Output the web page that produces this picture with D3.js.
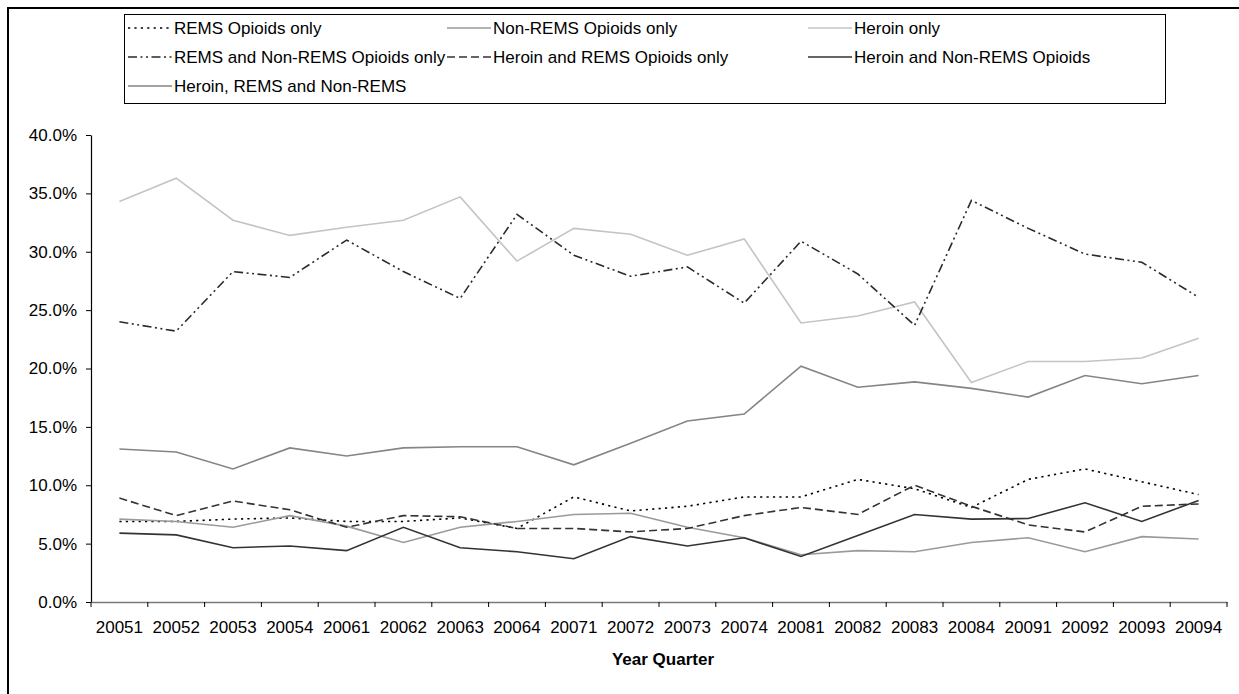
<!DOCTYPE html>
<html>
<head>
<meta charset="utf-8">
<script src="https://cdn.jsdelivr.net/npm/d3@7"></script>
<style>
  body { margin: 0; background: #fff; }
  svg { display: block; font-family: "Liberation Sans", Arial, sans-serif; }
</style>
</head>
<body>
<svg id="chart" width="1239" height="694"></svg>
<script>
// Year-quarter categories
const quarters = ["20051","20052","20053","20054","20061","20062","20063","20064",
                  "20071","20072","20073","20074","20081","20082","20083","20084",
                  "20091","20092","20093","20094"];

// Share of cases (%) per quarter, one array per exposure group
const remsOnly          = [6.9, 6.9, 7.1, 7.2, 6.9, 6.9, 7.2, 6.3, 9.0, 7.8, 8.2, 9.0, 9.0, 10.5, 9.7, 8.1, 10.5, 11.4, 10.3, 9.2];
const nonRemsOnly       = [7.1, 6.9, 6.4, 7.4, 6.5, 5.1, 6.4, 6.9, 7.5, 7.6, 6.4, 5.5, 4.05, 4.4, 4.3, 5.1, 5.5, 4.3, 5.6, 5.4];
const heroinOnly        = [34.3, 36.3, 32.7, 31.4, 32.1, 32.7, 34.7, 29.2, 32.0, 31.5, 29.7, 31.1, 23.9, 24.5, 25.7, 18.8, 20.6, 20.6, 20.9, 22.6];
const remsAndNonRems    = [24.0, 23.2, 28.3, 27.8, 31.0, 28.3, 26.0, 33.2, 29.7, 27.9, 28.7, 25.6, 30.9, 28.1, 23.7, 34.4, 32.0, 29.8, 29.1, 26.1];
const heroinAndRems     = [8.9, 7.4, 8.65, 7.9, 6.4, 7.4, 7.3, 6.3, 6.3, 6.0, 6.3, 7.4, 8.1, 7.5, 10.0, 8.2, 6.6, 6.0, 8.2, 8.4];
const heroinAndNonRems  = [5.9, 5.75, 4.65, 4.8, 4.4, 6.4, 4.65, 4.3, 3.7, 5.6, 4.8, 5.5, 3.9, 5.7, 7.5, 7.1, 7.15, 8.5, 6.9, 8.7];
const heroinRemsNonRems = [13.1, 12.85, 11.4, 13.2, 12.5, 13.2, 13.3, 13.3, 11.75, 13.6, 15.5, 16.1, 20.2, 18.4, 18.85, 18.3, 17.55, 19.4, 18.7, 19.4];

// Legend labels (row-major order as shown in the legend box)
const seriesLabels = ["REMS Opioids only", "Non-REMS Opioids only", "Heroin only",
                      "REMS and Non-REMS Opioids only", "Heroin and REMS Opioids only", "Heroin and Non-REMS Opioids",
                      "Heroin, REMS and Non-REMS"];

// Y-axis tick values (fractions)
const yTicks = [0, 0.05, 0.10, 0.15, 0.20, 0.25, 0.30, 0.35, 0.40];

const xTitle = "Year Quarter";

// ---- styling (kept separate from the data) ----
const seriesValues = [remsOnly, nonRemsOnly, heroinOnly, remsAndNonRems, heroinAndRems, heroinAndNonRems, heroinRemsNonRems];
const styles = [
  { color: "#000000", dash: "2.2,4.2" },
  { color: "#9a9a9a", dash: null },
  { color: "#c4c4c4", dash: null },
  { color: "#2a2a2a", dash: "9,3.5,2,3.5,2,3.5" },
  { color: "#333333", dash: "8,4" },
  { color: "#333333", dash: null },
  { color: "#858585", dash: null }
];

const series = seriesLabels.map((label, i) => ({ label, values: seriesValues[i], style: styles[i] }));

const svg = d3.select("#chart");
const W = 1239, H = 694;
const plot = { left: 91, right: 1227, top: 135, bottom: 602 };

// chart-area frame
svg.append("rect")
  .attr("x", 8).attr("y", 8)
  .attr("width", W + 20).attr("height", H + 20)
  .attr("fill", "none").attr("stroke", "#000").attr("stroke-width", 2);

const x = d3.scaleBand().domain(quarters).range([plot.left, plot.right]).paddingInner(0).paddingOuter(0);
const y = d3.scaleLinear().domain([0, 0.40]).range([plot.bottom, plot.top]);
const cx = q => x(q) + x.bandwidth() / 2;

// Y axis
const yAxis = svg.append("g")
  .attr("transform", `translate(${plot.left},0)`)
  .call(d3.axisLeft(y).tickValues(yTicks).tickFormat(d3.format(".1%")).tickSizeInner(5).tickSizeOuter(0).tickPadding(9));
yAxis.select(".domain").attr("stroke", "#000").attr("stroke-width", 1.2);
yAxis.selectAll(".tick line").attr("stroke", "#000");
yAxis.selectAll("text").attr("font-size", 17).attr("fill", "#000").attr("font-family", "Liberation Sans, Arial, sans-serif");

// X axis: labels centred in each band, tick marks at band boundaries
const xAxis = svg.append("g")
  .attr("transform", `translate(0,${plot.bottom})`)
  .call(d3.axisBottom(x).tickSize(0).tickPadding(19));
xAxis.select(".domain").attr("stroke", "#7a7a7a").attr("stroke-width", 1.5);
xAxis.selectAll("text").attr("font-size", 17).attr("fill", "#000").attr("font-family", "Liberation Sans, Arial, sans-serif");

const boundaries = quarters.map(q => x(q)).concat([x(quarters[quarters.length - 1]) + x.bandwidth()]);
svg.append("g").selectAll("line").data(boundaries).join("line")
  .attr("x1", d => d).attr("x2", d => d)
  .attr("y1", plot.bottom).attr("y2", plot.bottom + 5)
  .attr("stroke", "#000").attr("stroke-width", 1);

// X axis title
svg.append("text")
  .attr("x", (plot.left + plot.right) / 2 + 4)
  .attr("y", 665)
  .attr("text-anchor", "middle")
  .attr("font-size", 17).attr("font-weight", "bold")
  .text(xTitle);

// Series lines
const line = d3.line()
  .x((d, i) => cx(quarters[i]))
  .y(d => y(d / 100));

svg.append("g").selectAll("path").data(series).join("path")
  .attr("d", s => line(s.values))
  .attr("fill", "none")
  .attr("stroke", s => s.style.color)
  .attr("stroke-width", 1.6)
  .attr("stroke-dasharray", s => s.style.dash);

// Legend
const legend = { left: 124, top: 14, width: 1041, height: 89 };
svg.append("rect")
  .attr("x", legend.left + 0.5).attr("y", legend.top + 0.5)
  .attr("width", legend.width).attr("height", legend.height)
  .attr("fill", "#fff").attr("stroke", "#000").attr("stroke-width", 1);

const colX = [128, 447, 808];
const rowY = [28, 57, 86];
const entry = svg.append("g").selectAll("g").data(series).join("g")
  .attr("transform", (s, i) => `translate(${colX[i % 3]},${rowY[Math.floor(i / 3)]})`);
entry.append("line")
  .attr("x1", 0).attr("x2", 44).attr("y1", 0).attr("y2", 0)
  .attr("stroke", s => s.style.color)
  .attr("stroke-width", 1.6)
  .attr("stroke-dasharray", s => s.style.dash);
entry.append("text")
  .attr("x", 46).attr("y", 0).attr("dy", "0.35em")
  .attr("font-size", 17)
  .text(s => s.label);
</script>
</body>
</html>
